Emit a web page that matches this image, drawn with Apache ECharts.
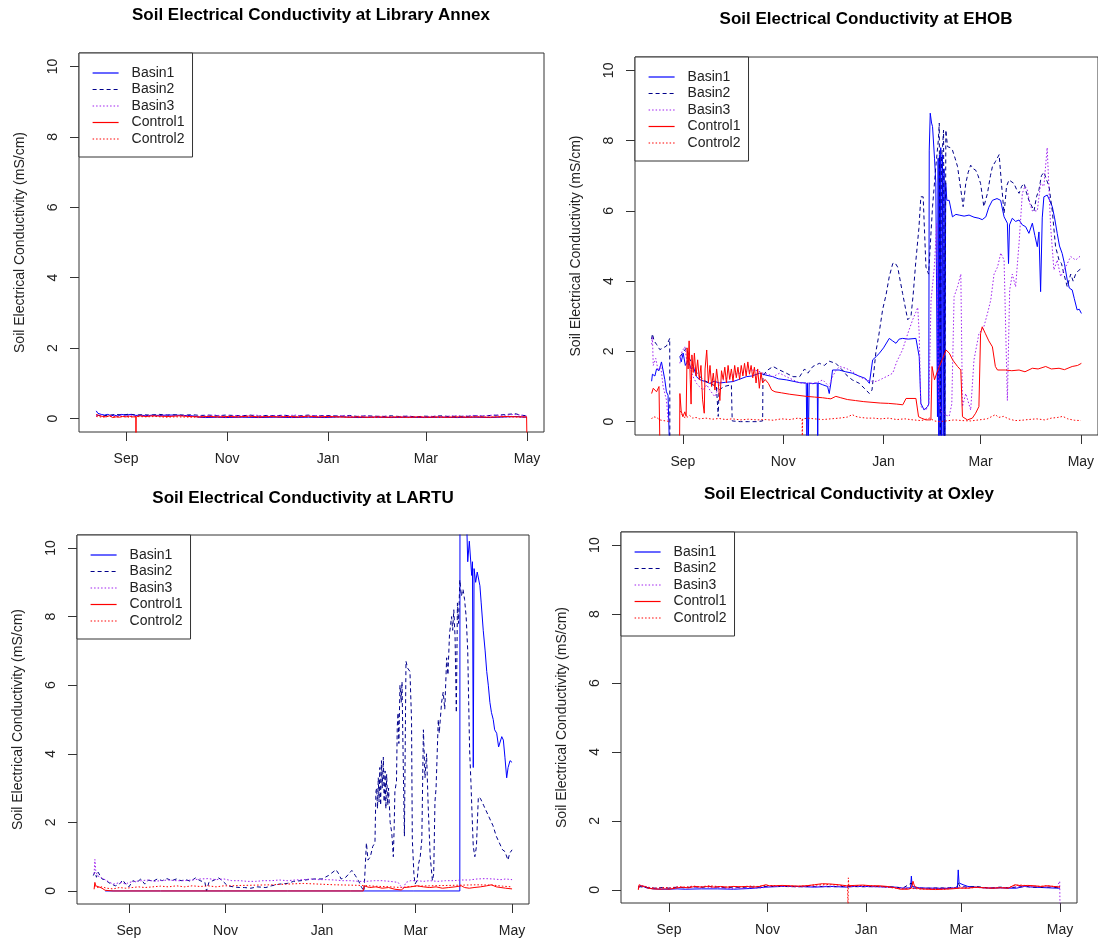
<!DOCTYPE html>
<html>
<head>
<meta charset="utf-8">
<title>Soil Electrical Conductivity</title>
<script src="https://cdn.jsdelivr.net/npm/echarts@6/dist/echarts.min.js"></script>
<style>
  html, body { margin: 0; padding: 0; background: #fff; }
  #chart { width: 1098px; height: 942px; }
</style>
</head>
<body>
<div id="chart"></div>
<script>
// x = days after 1 Sep (1 Sep = 0 ... 1 May = 242), y = mS/cm
var monthTicks = [0, 61, 122, 181, 242];
var monthLabels = ["Sep", "Nov", "Jan", "Mar", "May"];
var ecTicks = [0, 2, 4, 6, 8, 10];
var seriesNames = ["Basin1", "Basin2", "Basin3", "Control1", "Control2"];
var siteNames = ["Library Annex", "EHOB", "LARTU", "Oxley"];

// Library Annex
var libBasin1 = [[-18,0.22],[-17,0.15],[-15,0.12],[-13,0.1],[-11,0.12],[-9,0.08],[-7,0.1],[-5,0.07],[-3,0.12],[0,0.1],[3,0.12],[6,0.09],[9,0.1],[12,0.08],[16,0.1],[20,0.09],[25,0.1],[30,0.1],[35,0.09],[40,0.08],[44,0.04],[48,0.03],[55,0.04],[60,0.03],[70,0.04],[80,0.03],[90,0.04],[100,0.03],[110,0.04],[120,0.03],[130,0.05],[140,0.03],[150,0.04],[160,0.03],[170,0.04],[180,0.03],[190,0.04],[200,0.03],[210,0.04],[220,0.03],[230,0.05],[236,0.06],[240,0.04],[242,0.04]];
var libBasin2 = [[-18,0.1],[-14,0.08],[-10,0.1],[-6,0.12],[-2,0.1],[2,0.13],[6,0.1],[10,0.11],[15,0.1],[20,0.12],[25,0.1],[30,0.11],[35,0.1],[40,0.11],[45,0.09],[50,0.1],[55,0.08],[60,0.1],[65,0.09],[70,0.08],[75,0.1],[80,0.07],[85,0.09],[90,0.08],[95,0.1],[100,0.07],[105,0.08],[110,0.1],[115,0.07],[120,0.09],[125,0.08],[130,0.07],[135,0.09],[140,0.06],[145,0.08],[150,0.07],[155,0.06],[160,0.08],[165,0.06],[170,0.07],[175,0.05],[180,0.07],[185,0.06],[190,0.08],[195,0.06],[200,0.07],[205,0.06],[210,0.08],[215,0.07],[220,0.09],[225,0.1],[230,0.12],[235,0.14],[238,0.1],[242,0.08]];
var libBasin3 = [[-18,0.08],[-15,0.1],[-12,0.06],[-9,0.09],[-6,0.07],[-3,0.1],[0,0.08],[4,0.1],[8,0.07],[12,0.09],[18,0.08],[24,0.1],[30,0.08],[36,0.09],[42,0.07],[48,0.08],[54,0.1],[60,0.07],[66,0.09],[72,0.08],[78,0.1],[84,0.07],[90,0.09],[96,0.08],[102,0.1],[108,0.07],[114,0.09],[120,0.08],[126,0.07],[132,0.09],[138,0.06],[144,0.08],[150,0.06],[156,0.07],[162,0.05],[168,0.07],[174,0.06],[180,0.05],[186,0.07],[192,0.06],[198,0.08],[204,0.07],[210,0.09],[216,0.08],[222,0.1],[228,0.09],[234,0.12],[238,0.1],[242,0.07]];
var libControl1 = [[-18,0.12],[-16,0.08],[-14,0.06],[-12,0.05],[-10,0.08],[-8,0.03],[-6,0.05],[-4,0.04],[-2,0.06],[0,0.05],[2,0.07],[4,0.05],[5.9,0.05],[6,-0.6],[6.1,0.05],[8,0.08],[12,0.06],[16,0.08],[20,0.07],[26,0.06],[32,0.08],[38,0.06],[44,0.05],[50,0.06],[56,0.05],[62,0.06],[68,0.05],[74,0.07],[80,0.05],[86,0.06],[92,0.05],[98,0.06],[104,0.05],[110,0.07],[116,0.05],[122,0.06],[128,0.05],[134,0.04],[140,0.05],[146,0.04],[152,0.05],[158,0.04],[164,0.05],[170,0.04],[176,0.05],[182,0.04],[188,0.05],[194,0.04],[200,0.05],[206,0.04],[212,0.05],[218,0.04],[224,0.05],[230,0.06],[236,0.05],[241.8,0.05],[242,-0.6]];
var libControl2 = [[-18,0.06],[-14,0.04],[-10,0.07],[-6,0.05],[-2,0.06],[2,0.04],[6,0.06],[12,0.05],[18,0.06],[24,0.04],[30,0.05],[40,0.04],[50,0.05],[60,0.04],[70,0.05],[80,0.04],[90,0.05],[100,0.04],[110,0.05],[120,0.04],[130,0.05],[140,0.04],[150,0.03],[160,0.04],[170,0.03],[180,0.04],[190,0.03],[200,0.04],[210,0.05],[220,0.04],[230,0.05],[242,0.04]];

// EHOB
var ehobBasin1 = [[-19,1.15],[-18.5,1.35],[-17,1.3],[-16,1.5],[-14.5,1.45],[-13,1.7],[-12,1.65],[-11,1.2],[-10,0.85],[-9,0.75],[-8.3,0.8],[-8.2,-0.6],[-5,null],[-1.8,1.85],[-1,1.7],[0.2,1.95],[1.5,1.6],[3.2,1.75],[5,1.5],[6.5,1.55],[8.3,1.28],[10,1.2],[13,1.15],[16.4,1.09],[19,1.15],[22.4,1.1],[26,1.12],[30.5,1.14],[34,1.2],[38.6,1.28],[42,1.3],[46.7,1.38],[50,1.33],[54.8,1.28],[58,1.22],[62.9,1.19],[67,1.15],[71,1.11],[75,1.1],[75.4,-0.6],[75.8,1.1],[76.3,-0.6],[76.8,1.1],[79,1.08],[81.7,1.1],[82,-0.6],[82.3,1.1],[85,1.05],[88,1.0],[89,0.8],[90,1.1],[91,1.47],[95,1.47],[99,1.42],[103,1.38],[107,1.3],[111,1.23],[113.4,1.09],[115.4,1.76],[117.5,1.85],[119.5,1.95],[122,2.1],[125.5,2.37],[127.5,2.3],[129.6,2.23],[131.5,2.35],[133.6,2.37],[137,2.35],[141.7,2.37],[143.7,1.85],[144.7,0.52],[146.7,0.33],[148.8,0.43],[149.5,0.5],[149.8,7.73],[150.4,8.78],[151.2,8.5],[151.8,8.4],[153,7.5],[153.8,6.8],[154.8,0.14],[155.2,7.5],[155.6,-0.6],[156,7.6],[156.4,-0.6],[156.8,7.8],[157.3,-0.6],[157.8,7.6],[158.3,-0.6],[158.8,7.2],[159.3,-0.6],[159.8,6.8],[160.5,6.3],[161.9,6.3],[163.9,5.83],[166,5.9],[168,5.88],[171,5.85],[174,5.88],[177,5.82],[180,5.79],[182,5.75],[184.2,5.83],[186,6.1],[188.2,6.3],[191,6.35],[193.2,6.3],[195.3,5.83],[197.3,5.65],[198,4.5],[198.6,5.6],[200.3,5.79],[202.3,5.7],[204.4,5.74],[206.4,5.6],[208.4,5.55],[210.4,5.36],[212.5,5.65],[214,5.3],[215.5,4.98],[216.5,5.4],[217.5,3.7],[218.5,5.8],[219.5,6.4],[221.5,6.45],[223,6.3],[224.6,6.12],[226,5.8],[227.6,5.36],[229,5.0],[230.6,4.79],[232,4.5],[233.7,4.03],[235,3.8],[236.7,3.75],[238,3.5],[239.7,3.18],[241,3.2],[242.3,3.08]];
var ehobBasin2 = [[-19,2.35],[-18.5,2.5],[-17.5,2.3],[-16,2.2],[-14,2.05],[-12,2.1],[-10,2.15],[-9,2.2],[-8,2.37],[-7.9,-0.6],[-5,null],[-1.8,1.85],[-1,1.9],[0.5,2.0],[2.2,2.1],[4,1.8],[6.3,1.57],[9,1.35],[12.3,1.19],[16.4,1.09],[20.4,1.0],[21.5,0.15],[22,0.9],[25,1.0],[29.5,1.05],[30,0.02],[35,0.0],[40,0.0],[45,0.0],[48.5,0.02],[48.7,1.3],[51,1.45],[54.8,1.57],[58.8,1.47],[62.9,1.38],[67,1.28],[71,1.28],[74,1.5],[76,1.38],[79,1.57],[83,1.66],[86,1.6],[89,1.72],[93,1.66],[97,1.47],[100,1.3],[103,1.19],[107.3,1.09],[111.4,0.9],[113.4,0.8],[115,0.9],[117.4,2.0],[119,2.42],[121.5,3.2],[123.5,3.6],[125.5,4.13],[127.6,4.5],[129,4.52],[130.6,4.4],[133.6,3.65],[136.7,2.9],[138.7,3.0],[140,3.6],[141.7,4.6],[143.5,5.5],[144.7,6.4],[146.1,6.4],[147.8,4.4],[149.4,4.2],[151.8,6.12],[153.8,7.26],[155.3,8.0],[155.9,8.5],[156.5,-0.6],[157.2,7.5],[157.9,7.83],[158.5,8.3],[159.2,-0.6],[159.9,8.3],[160.9,7.83],[162.5,7.8],[163.9,7.73],[165.5,7.5],[167,7.26],[169,6.6],[170.4,6.12],[172,6.78],[173.5,7.1],[175,7.3],[176.5,7.2],[178,7.16],[179.5,7.0],[181,6.78],[183,6.12],[185.2,6.5],[187,7.0],[188.2,7.26],[190,7.4],[192.3,7.6],[193.7,6.78],[195.3,5.93],[196.8,6.7],[198.3,6.88],[201.3,6.78],[203,6.6],[204.4,6.5],[206,6.7],[207.5,6.78],[209,6.5],[210.4,6.3],[213.5,6.0],[215,6.4],[216.5,6.6],[218,7.0],[219.5,7.1],[221,6.9],[222.6,6.7],[224.6,6.0],[226.6,4.98],[228.7,4.6],[230.2,4.5],[231.7,4.2],[233.7,3.84],[235.8,4.2],[237.3,4.0],[238.8,4.2],[240.5,4.3],[242.3,4.36]];
var ehobBasin3 = [[-19,2.2],[-18.5,2.4],[-18,1.6],[-16.5,1.8],[-15,1.45],[-13.5,1.6],[-12,1.0],[-10,0.62],[-9,0.05],[-8,0.02],[-5,null],[-1.8,1.66],[-0.5,2.0],[1.2,2.13],[2.5,1.7],[4.2,1.57],[6,1.3],[8.3,1.09],[10,1.0],[12.3,0.9],[14.5,1.05],[16.4,0.9],[18,0.8],[19.4,0.71],[21,0.9],[22.4,1.09],[25,1.2],[28.5,1.28],[31,1.35],[34.6,1.38],[38,1.42],[42.7,1.47],[45.5,1.45],[48.7,1.38],[52,1.35],[54.8,1.28],[58.8,1.38],[62.9,1.28],[67,1.19],[70,1.12],[73,1.09],[76,1.1],[79,1.09],[82,1.12],[85,1.19],[89,1.0],[91,1.28],[93,1.45],[95.2,1.57],[99.2,1.52],[103.3,1.42],[107.3,1.28],[111.4,1.19],[115.4,1.14],[118,1.15],[121.5,1.23],[124.5,1.3],[127.6,1.38],[130,1.7],[133.6,2.05],[136.7,2.5],[139.7,2.9],[141.5,3.1],[142.8,3.25],[143.7,2.5],[144.7,0.43],[147.8,0.33],[149.5,0.5],[150.9,3.46],[152.9,4.4],[154.3,5.64],[155.5,0.6],[157,0.3],[159,0.2],[161.9,0.15],[163.5,0.5],[164.9,3.56],[167,3.84],[169,4.2],[170,0.43],[172,0.8],[175,0.33],[177,1.76],[180,2.5],[183,2.7],[185.2,3.08],[187.2,3.46],[189.2,4.2],[191.3,4.4],[193.3,4.8],[195.3,4.6],[197.3,0.6],[198.7,3.75],[200.3,4.2],[202.3,3.84],[204.4,5.08],[206.4,6.5],[208,6.7],[209.4,6.6],[211,6.2],[212.5,6.0],[215.5,6.0],[217.5,6.78],[219.5,6.7],[221.5,7.8],[223.6,5.55],[225.6,4.32],[227.6,4.6],[229.7,4.13],[232.7,4.4],[235.8,4.7],[238.8,4.6],[242.3,4.74]];
var ehobControl1 = [[-19,0.8],[-18,0.95],[-17,1.0],[-16,0.85],[-15,0.9],[-14.5,1.0],[-14,-0.6],[-8,null],[-2,-0.6],[-1.8,0.8],[-1,0.3],[0,0.14],[1.2,0.28],[2,0.15],[2.6,2.1],[3.2,1.5],[3.8,2.3],[4.5,1.2],[5,0.5],[5.5,1.9],[6.3,1.4],[7,1.95],[8,1.3],[9,1.76],[10,1.2],[11,1.6],[12,0.62],[13,0.24],[13.5,1.5],[14.5,2.04],[15.5,1.1],[16.5,1.6],[17.5,1.0],[18.5,1.38],[19.5,0.9],[20.5,1.5],[21.5,1.1],[22.5,0.6],[23.5,1.45],[24.5,1.2],[25.5,1.55],[26.5,1.1],[27.5,1.6],[28.5,1.2],[29.5,1.5],[30.5,1.15],[31.5,1.6],[32.5,1.25],[33.5,1.55],[34.5,1.2],[35.5,1.6],[36.5,1.3],[37.5,1.66],[38.5,1.3],[39.5,1.7],[40.5,1.35],[41.5,1.6],[42.5,1.25],[43.5,1.55],[44.5,1.1],[45.5,1.5],[46.5,0.95],[47.5,1.4],[48.5,1.1],[50,1.2],[52,1.09],[54,0.9],[56,0.85],[60,0.82],[65,0.78],[70,0.75],[75,0.72],[80,0.7],[85,0.68],[88,0.66],[90,0.65],[93,0.72],[96,0.68],[100,0.63],[105,0.6],[110,0.57],[115,0.55],[120,0.53],[125,0.52],[130,0.5],[133.7,0.48],[135.7,0.66],[141.7,0.66],[143.3,0.14],[145,0.1],[147.8,0.05],[150.8,0.05],[151.5,1.57],[153,1.19],[154.5,1.4],[156,1.57],[158,1.8],[160,2.04],[162,1.95],[164,1.76],[167,1.57],[169,1.47],[170,0.14],[173,0.05],[176,0.1],[178,0.24],[180,0.43],[181,2.5],[182,2.7],[184,2.5],[186,2.3],[188.2,2.13],[190,1.57],[191.3,1.47],[196,1.47],[200,1.45],[204.4,1.47],[208,1.42],[212.5,1.52],[216,1.5],[220.6,1.57],[224,1.5],[228.7,1.52],[232,1.48],[236.7,1.57],[240,1.6],[242.3,1.66]];
var ehobControl2 = [[-19,0.08],[-18,0.14],[-17,0.1],[-16,0.12],[-14,0.05],[-12,0.03],[-10,0.02],[-8,0.0],[-5,null],[-1.5,0.3],[0,0.15],[2,0.1],[4,0.18],[6,0.1],[8,0.12],[10,0.08],[14,0.1],[18,0.07],[22,0.09],[26,0.06],[30,0.08],[35,0.05],[40,0.07],[45,0.05],[50,0.06],[55,0.04],[60,0.08],[65,0.06],[70,0.1],[72.5,0.08],[72.6,-0.6],[72.8,0.08],[76,0.1],[80,0.08],[85,0.06],[90,0.08],[95,0.1],[100,0.13],[103,0.2],[105,0.15],[108,0.12],[112,0.1],[116,0.1],[120,0.08],[125,0.1],[130,0.06],[135,0.08],[140,0.05],[145,0.03],[150,0.1],[153,0.02],[156,0.0],[160,0.02],[165,0.05],[170,0.03],[175,0.02],[180,0.05],[185,0.08],[188,0.15],[190,0.2],[192,0.12],[195,0.15],[198,0.08],[202,0.03],[206,0.04],[210,0.06],[215,0.08],[220,0.05],[224,0.1],[228,0.12],[231,0.15],[234,0.08],[238,0.04],[242,0.03]];

// LARTU
var lartuBasin1 = [[-15,0.0],[20,0.0],[60,0.0],[100,0.0],[140,0.0],[180,0.0],[209,0.0],[209.1,10.8],[213.3,10.8],[214,9.6],[215,10.2],[216.5,9.2],[217,9.6],[217.5,3.6],[218,9.4],[219,9.0],[220,9.3],[221.7,8.9],[222.5,8.4],[223.8,7.6],[225,7.0],[226,6.4],[227,6.0],[228,5.5],[229,5.2],[230.1,5.0],[231,4.7],[232.3,4.6],[233.5,4.2],[234.4,4.2],[235.5,4.5],[236.5,4.4],[237.5,3.9],[238.6,3.3],[239.5,3.6],[240.7,3.8],[242,3.75]];
var lartuBasin2 = [[-22.5,0.45],[-21.5,0.55],[-20.5,0.4],[-19.5,0.55],[-18.4,0.55],[-17,0.35],[-15,0.33],[-13,0.25],[-11,0.2],[-8.5,0.15],[-6,0.2],[-4,0.32],[-2,0.2],[0,0.12],[2.5,0.3],[5,0.25],[7.5,0.35],[10,0.2],[12.5,0.32],[15,0.28],[18,0.35],[21,0.3],[24,0.36],[27,0.3],[30,0.35],[33,0.3],[36,0.33],[39,0.28],[42,0.38],[45,0.3],[48,0.25],[49,0.0],[50.5,0.25],[53,0.3],[56.7,0.38],[59,0.3],[62.3,0.15],[66,0.12],[70,0.1],[73,0.1],[77,0.08],[81,0.12],[86.5,0.1],[90,0.15],[95,0.2],[100,0.22],[104,0.28],[108.7,0.3],[113,0.33],[117,0.35],[122,0.35],[126,0.45],[130.8,0.62],[132.5,0.5],[134,0.35],[137,0.4],[140.8,0.6],[143,0.45],[145,0.3],[147,0.1],[148.5,0.0],[150,1.4],[151,0.9],[152.5,1.0],[154,1.3],[155.4,1.4],[156,2.9],[156.5,3.0],[157,2.4],[157.5,3.3],[158,2.6],[158.5,3.6],[159,2.5],[159.5,3.8],[160,3.0],[160.7,3.9],[161.2,2.6],[161.8,3.5],[162.3,2.4],[162.8,3.4],[163.5,2.5],[164,3.0],[165,2.0],[166,1.7],[167,1.0],[167.5,1.8],[168,2.9],[169,3.2],[169.5,4.8],[170,5.2],[170.5,4.3],[171.2,6.0],[172,5.5],[172.5,6.1],[173,4.5],[174,1.6],[175,6.7],[176,6.5],[177.5,6.4],[178.5,5.0],[179,1.5],[180,0.5],[180.7,0.2],[182,0.3],[183,0.8],[184,1.0],[185,1.5],[186,4.7],[187,3.3],[188,4.0],[189,2.5],[190.3,1.0],[191.7,0.3],[192.5,0.5],[193.3,2.6],[194,3.0],[195.4,5.0],[196,4.6],[197.5,5.5],[198.5,5.8],[199.5,5.3],[200.7,6.8],[201.5,6.3],[202.5,7.5],[203.8,8.0],[204.5,7.6],[205.2,8.2],[206,7.4],[206.8,5.2],[207.5,8.4],[208.2,7.8],[209,9.07],[210,8.6],[211,8.8],[212,8.5],[213,8.0],[214,7.0],[214.6,5.5],[215.2,4.1],[216,3.2],[217,1.9],[217.5,1.3],[218.5,1.0],[219.5,1.3],[220.7,2.74],[222,2.7],[224,2.5],[226,2.3],[228,2.1],[230,1.9],[232,1.6],[234,1.4],[236,1.2],[237.5,1.15],[239.4,0.9],[240.5,1.1],[242,1.2]];
var lartuBasin3 = [[-22,0.5],[-21.5,0.92],[-21,0.6],[-20,0.45],[-18,0.4],[-16,0.35],[-14,0.3],[-12,0.25],[-10,0.2],[-8,0.22],[-5,0.25],[-2,0.2],[0,0.25],[4,0.28],[8,0.3],[12,0.32],[16,0.28],[20,0.3],[25,0.32],[30,0.3],[35,0.3],[40,0.32],[45,0.35],[50,0.36],[55,0.33],[60,0.35],[65,0.3],[70,0.3],[75,0.28],[80,0.28],[85,0.3],[90,0.3],[95,0.32],[100,0.3],[105,0.32],[110,0.33],[115,0.35],[120,0.33],[125,0.33],[130,0.32],[135,0.3],[140,0.3],[145,0.28],[150,0.28],[155,0.3],[160,0.3],[165,0.28],[170,0.25],[172,0.12],[173.5,0.1],[175,0.25],[178,0.3],[182,0.3],[186,0.28],[190,0.3],[195,0.28],[200,0.3],[205,0.3],[210,0.32],[215,0.32],[220,0.35],[225,0.36],[230,0.35],[235,0.33],[238,0.35],[242,0.33]];
var lartuControl1 = [[-22,0.05],[-21.5,0.25],[-21,0.15],[-19,0.12],[-17,0.08],[-15,0.02],[-10,0.0],[20,0.0],[60,0.0],[100,0.0],[148,0.0],[148.5,0.15],[152,0.1],[156,0.12],[160,0.08],[164,0.1],[168,0.05],[172,0.03],[174,0.1],[178,0.12],[182,0.15],[186,0.12],[190,0.1],[194,0.12],[198,0.08],[202,0.1],[206,0.12],[210,0.15],[212,0.1],[215,0.08],[218,0.1],[222,0.12],[226,0.15],[229,0.18],[232,0.12],[235,0.1],[238,0.08],[242,0.06]];
var lartuControl2 = [[-22,0.15],[-20,0.1],[-17,0.12],[-14,0.08],[-10,0.06],[-6,0.1],[-2,0.08],[2,0.1],[6,0.12],[10,0.1],[15,0.12],[20,0.14],[25,0.12],[30,0.15],[35,0.12],[40,0.15],[45,0.13],[50,0.15],[55,0.12],[60,0.15],[65,0.15],[70,0.16],[80,0.17],[90,0.18],[100,0.2],[110,0.22],[120,0.2],[130,0.18],[140,0.17],[148,0.16],[155,0.14],[165,0.12],[172,0.1],[180,0.14],[190,0.15],[200,0.16],[210,0.17],[220,0.18],[230,0.17],[236,0.14],[242,0.12]];

// Oxley
var oxleyBasin1 = [[-19,0.05],[-18,0.12],[-16,0.1],[-14,0.06],[-12,0.05],[-10,0.03],[-5,0.02],[0,0.02],[5,0.03],[10,0.02],[20,0.03],[30,0.03],[40,0.02],[50,0.04],[55,0.06],[60,0.08],[70,0.1],[80,0.1],[90,0.08],[100,0.1],[110,0.08],[115,0.1],[120,0.1],[130,0.09],[140,0.08],[145,0.05],[149.5,0.06],[150,0.4],[150.5,0.1],[155,0.06],[160,0.05],[165,0.05],[170,0.04],[175,0.05],[178.5,0.06],[179,0.58],[179.5,0.2],[182,0.15],[185,0.1],[190,0.08],[195,0.06],[200,0.05],[205,0.06],[210,0.05],[215,0.05],[220,0.1],[225,0.08],[230,0.07],[235,0.06],[240,0.05],[242,0.05]];
var oxleyBasin2 = [[-19,0.1],[-16,0.08],[-12,0.06],[-8,0.05],[-4,0.07],[0,0.05],[5,0.08],[10,0.06],[15,0.09],[20,0.07],[25,0.1],[30,0.08],[35,0.06],[40,0.08],[45,0.07],[50,0.09],[55,0.08],[60,0.1],[70,0.1],[80,0.09],[90,0.1],[100,0.09],[110,0.1],[120,0.09],[130,0.1],[140,0.08],[145,0.06],[150,0.2],[151,0.05],[160,0.05],[170,0.06],[178,0.07],[179,0.2],[180,0.1],[185,0.08],[190,0.1],[195,0.07],[200,0.06],[205,0.08],[210,0.06],[215,0.08],[220,0.1],[225,0.08],[230,0.07],[236,0.08],[242,0.06]];
var oxleyBasin3 = [[-19,0.1],[-16,0.12],[-13,0.08],[-10,0.05],[-6,0.04],[-2,0.06],[2,0.05],[6,0.08],[10,0.06],[14,0.09],[18,0.07],[22,0.1],[26,0.06],[30,0.08],[34,0.05],[38,0.03],[42,0.06],[46,0.04],[50,0.07],[54,0.05],[58,0.06],[62,0.1],[70,0.1],[80,0.09],[90,0.1],[100,0.11],[110,0.1],[120,0.1],[130,0.09],[140,0.07],[150,0.05],[160,0.05],[170,0.05],[180,0.08],[190,0.07],[200,0.06],[210,0.07],[220,0.1],[230,0.09],[240,0.08],[241.8,0.25],[242,-0.6]];
var oxleyControl1 = [[-19,0.0],[-18.5,0.15],[-17,0.12],[-15,0.1],[-13,0.05],[-10,0.03],[-6,0.02],[-2,0.03],[0,0.02],[4,0.05],[8,0.08],[12,0.06],[16,0.1],[20,0.08],[24,0.1],[28,0.08],[32,0.1],[36,0.08],[40,0.1],[44,0.09],[48,0.1],[52,0.08],[56,0.1],[60,0.15],[62,0.12],[66,0.12],[70,0.13],[75,0.12],[80,0.11],[85,0.12],[90,0.15],[95,0.18],[100,0.17],[105,0.15],[110,0.12],[115,0.13],[120,0.14],[125,0.12],[130,0.12],[135,0.1],[140,0.06],[143,0.02],[148,0.02],[150,0.05],[151,0.25],[152,0.1],[155,0.03],[160,0.02],[165,0.01],[170,0.02],[175,0.03],[180,0.05],[185,0.05],[190,0.08],[195,0.06],[200,0.05],[205,0.06],[210,0.05],[214,0.15],[218,0.12],[222,0.13],[226,0.12],[230,0.1],[234,0.12],[238,0.1],[242,0.08]];
var oxleyControl2 = [[-19,0.08],[-15,0.1],[-11,0.06],[-7,0.05],[-3,0.07],[1,0.06],[5,0.09],[10,0.08],[15,0.11],[20,0.09],[25,0.12],[30,0.1],[35,0.08],[40,0.1],[45,0.09],[50,0.11],[55,0.1],[60,0.13],[70,0.12],[80,0.1],[90,0.14],[100,0.16],[105,0.14],[110.5,0.1],[110.8,-0.6],[111,0.35],[111.3,0.1],[115,0.12],[120,0.13],[125,0.12],[130,0.1],[135,0.08],[140,0.05],[145,0.03],[150,0.04],[155,0.03],[160,0.02],[165,0.03],[170,0.02],[175,0.04],[180,0.06],[185,0.05],[190,0.07],[195,0.06],[200,0.05],[205,0.07],[210,0.06],[214,0.13],[218,0.14],[222,0.12],[226,0.11],[230,0.1],[234,0.12],[238,0.1],[242,0.09]];

var siteData = [
  [libBasin1, libBasin2, libBasin3, libControl1, libControl2],
  [ehobBasin1, ehobBasin2, ehobBasin3, ehobControl1, ehobControl2],
  [lartuBasin1, lartuBasin2, lartuBasin3, lartuControl1, lartuControl2],
  [oxleyBasin1, oxleyBasin2, oxleyBasin3, oxleyControl1, oxleyControl2]
];

var panels = [
  { left: 79, top: 53, width: 465, height: 379, xMin: -28.4, xMax: 252.3, titleX: 311, titleY: 5 },
  { left: 635, top: 57, width: 464, height: 378, xMin: -29.1, xMax: 252.4, titleX: 866, titleY: 9 },
  { left: 77, top: 535, width: 452, height: 369, xMin: -32.8, xMax: 252.7, titleX: 303, titleY: 488 },
  { left: 621, top: 532, width: 456, height: 371, xMin: -29.7, xMax: 252.5, titleX: 849, titleY: 484 }
];

var lineLook = [
  { color: "#0000FF", type: "solid" },
  { color: "#00008B", type: [4, 3] },
  { color: "#A020F0", type: [1.5, 2] },
  { color: "#FF0000", type: "solid" },
  { color: "#FF0000", type: [1.5, 2] }
];

var chart = echarts.init(document.getElementById("chart"), null, { renderer: "canvas" });

var option = {
  animation: false,
  backgroundColor: "#fff",
  title: [],
  grid: [],
  xAxis: [],
  yAxis: [],
  legend: [],
  series: []
};

panels.forEach(function (p, i) {
  option.title.push({
    text: "Soil Electrical Conductivity at " + siteNames[i],
    left: p.titleX,
    top: p.titleY,
    textAlign: "center",
    padding: 0,
    textStyle: { fontFamily: "Liberation Sans, Arial", fontSize: 17, fontWeight: "bold", color: "#000", lineHeight: 20 }
  });
  option.grid.push({
    left: p.left, top: p.top, width: p.width, height: p.height,
    show: true, borderColor: "#333", borderWidth: 1, backgroundColor: "transparent"
  });
  option.xAxis.push({
    type: "value", gridIndex: i, min: p.xMin, max: p.xMax,
    axisLine: { show: false, onZero: false },
    splitLine: { show: false },
    axisTick: { show: true, length: 9, customValues: monthTicks, lineStyle: { color: "#333" } },
    axisLabel: {
      customValues: monthTicks, margin: 20,
      fontFamily: "Liberation Sans, Arial", fontSize: 14, color: "#222",
      formatter: function (v) { return monthLabels[monthTicks.indexOf(Math.round(v))]; }
    }
  });
  option.yAxis.push({
    type: "value", gridIndex: i, min: -0.38, max: 10.38,
    name: "Soil Electrical Conductivity (mS/cm)",
    nameLocation: "middle", nameRotate: 90, nameGap: 52,
    nameTextStyle: { fontFamily: "Liberation Sans, Arial", fontSize: 14, color: "#222" },
    axisLine: { show: false, onZero: false },
    splitLine: { show: false },
    axisTick: { show: true, length: 9, customValues: ecTicks, lineStyle: { color: "#333" } },
    axisLabel: {
      customValues: ecTicks, rotate: 90, margin: 19,
      fontFamily: "Liberation Sans, Arial", fontSize: 14, color: "#222"
    }
  });
  option.legend.push({
    data: seriesNames,
    orient: "vertical",
    left: p.left, top: p.top,
    padding: [13, 8, 11, 13],
    itemWidth: 26, itemHeight: 14, itemGap: 2.5,
    itemStyle: { opacity: 0 },
    lineStyle: { width: 1.2, color: "inherit", type: "inherit" },
    backgroundColor: "#fff",
    borderColor: "#333", borderWidth: 1, borderRadius: 0,
    textStyle: { fontFamily: "Liberation Sans, Arial", fontSize: 14, color: "#222", padding: [0, 0, 0, 8] }
  });
  siteData[i].forEach(function (d, k) {
    option.series.push({
      name: seriesNames[k],
      type: "line",
      xAxisIndex: i, yAxisIndex: i,
      data: d,
      symbol: "none",
      connectNulls: false,
      clip: true,
      lineStyle: { color: lineLook[k].color, width: 1, type: lineLook[k].type },
      itemStyle: { color: lineLook[k].color }
    });
  });
});

chart.setOption(option);
window.onresize = function () { chart.resize(); };
</script>
</body>
</html>
